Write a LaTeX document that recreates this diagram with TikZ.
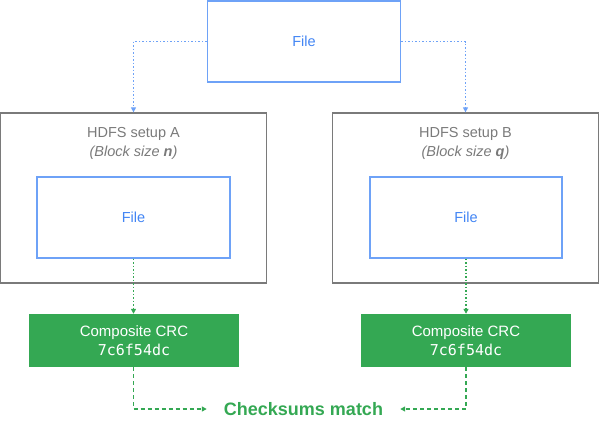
\documentclass[tikz,border=0pt]{standalone}
\usepackage{fontspec}
\setmainfont{Liberation Sans}
\setmonofont{DejaVu Sans Mono}
\usetikzlibrary{shapes,arrows.meta,positioning}
\definecolor{fileblue}{HTML}{4285F4}
\definecolor{lineblue}{HTML}{6EA2F7}
\definecolor{setupgray}{HTML}{7A7A7A}
\definecolor{crcgreen}{HTML}{34A853}

\begin{document}
\begin{tikzpicture}[x=1pt,y=-1pt,
	filebox/.style={draw=lineblue,line width=1.3pt,text=fileblue,minimum width=193pt,minimum height=81pt,inner sep=0pt,font=\fontsize{14.5}{17}\selectfont},
	setupbox/.style={draw=setupgray,line width=1.3pt,minimum width=266pt,minimum height=170pt,inner sep=0pt},
	setuptitle/.style={text=setupgray,align=center,inner sep=0pt,font=\fontsize{14.5}{19}\selectfont},
	crcbox/.style={fill=crcgreen,text=white,minimum width=210pt,minimum height=53pt,inner sep=0pt,align=center,font=\fontsize{15}{19}\selectfont},
	feed/.style={lineblue,line width=1.5pt,dash pattern=on 1.5pt off 2pt,-{Triangle[length=5pt,width=5pt]}},
	sum/.style={crcgreen,line width=1.5pt,dash pattern=on 1.5pt off 2pt,-{Triangle[length=5pt,width=5pt]}},
	compare/.style={crcgreen,line width=1.3pt,dash pattern=on 4pt off 3pt,shorten >=17pt,-{Triangle[length=5pt,width=5pt]}}
	]
				\useasboundingbox (0,0) rectangle (600,432);
				% source file
				\node[filebox] (topfile) at (304,41.5) {File};
				% the two setups
				\node[setupbox] (setupA) at (133.5,198) {};
				\node[setupbox] (setupB) at (465.5,198) {};
				\node[setuptitle] (titleA) at (133.5,143) {HDFS setup A\\\textit{(Block size \textbf{n})}};
				\node[setuptitle] (titleB) at (465.5,143) {HDFS setup B\\\textit{(Block size \textbf{q})}};
				\node[filebox] (innerA) at (133.5,217.5) {File};
				\node[filebox,minimum width=192pt] (innerB) at (466,217.5) {File};
				% checksums
				\node[crcbox] (crcA) at (134,340.5) {Composite CRC\\\texttt{7c6f54dc}};
				\node[crcbox] (crcB) at (466,340.5) {Composite CRC\\\texttt{7c6f54dc}};
				\node[text=crcgreen,inner sep=0pt,font=\fontsize{18}{20}\selectfont\bfseries] (match) at (303.5,409) {Checksums match};
				\draw[feed] (topfile.west) -| (setupA.north);
				\draw[feed] (topfile.east) -| (setupB.north);
				\draw[sum] (innerA.south) -- (innerA.south |- crcA.north);
				\draw[sum] (innerB.south) -- (innerB.south |- crcB.north);
				\draw[compare] (innerA.south |- crcA.south) |- (match.west);
				\draw[compare] (innerB.south |- crcB.south) |- (match.east);
\end{tikzpicture}
\end{document}
